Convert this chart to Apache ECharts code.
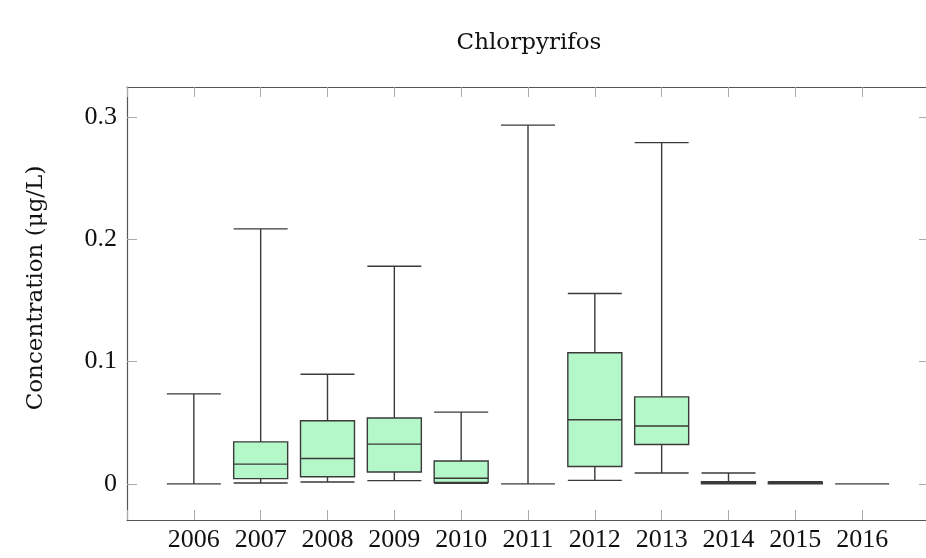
<!DOCTYPE html>
<html>
<head>
<meta charset="utf-8">
<script src="https://cdn.jsdelivr.net/npm/echarts@6/dist/echarts.min.js"></script>
<style>
  html, body { margin: 0; padding: 0; background: #fff; }
  #chart { width: 926px; height: 558px; }
</style>
</head>
<body>
<div id="chart"></div>
<script>
// Years (categories)
const years = ['2006','2007','2008','2009','2010','2011','2012','2013','2014','2015','2016'];
// Box statistics per year (µg/L)
const minVals    = [0.0,    0.0008, 0.0016, 0.0027, 0.0005, 0.0,    0.0029, 0.0089, 0.0,    0.0,    0.0];
const q1Vals     = [0.0,    0.0043, 0.0059, 0.0097, 0.0013, 0.0,    0.0143, 0.0322, 0.0,    0.0,    0.0];
const medianVals = [0.0,    0.0162, 0.0208, 0.0325, 0.0046, 0.0,    0.0525, 0.0474, 0.0009, 0.0008, 0.0];
const q3Vals     = [0.0,    0.0344, 0.0517, 0.0539, 0.0187, 0.0,    0.1072, 0.0712, 0.0019, 0.0015, 0.0];
const maxVals    = [0.0736, 0.2085, 0.0896, 0.178,  0.0587, 0.2933, 0.1557, 0.279,  0.0089, 0.0018, 0.0];
// Y tick labels
const yTicks = [0, 0.1, 0.2, 0.3];

const axisData = [' '].concat(years, ['  ']);
const boxData = years.map((y, i) => [minVals[i], q1Vals[i], medianVals[i], q3Vals[i], maxVals[i]]);
// pad first/last category (axis limits enlarged like pgfplots)
const seriesData = [[null, null, null, null, null]].concat(boxData);

const serif = 'Liberation Serif';
const titleFont = 'DejaVu Serif';
const frameColor = '#555';
const tickColor = '#aaa';

const chart = echarts.init(document.getElementById('chart'), null, { renderer: 'canvas' });
chart.setOption({
  animation: false,
  backgroundColor: '#fff',
  title: {
    text: 'Chlorpyrifos',
    left: 524,
    top: 27,
    textAlign: 'center',
    textStyle: { fontFamily: titleFont, fontSize: 23, fontWeight: 'normal', color: '#111' }
  },
  grid: { left: 127, top: 87, right: -3, bottom: 38, outerBoundsMode: 'none', containLabel: false },
  xAxis: [
    {
      type: 'category', data: axisData, boundaryGap: false, position: 'bottom',
      axisLine: { show: true, onZero: false, lineStyle: { color: frameColor, width: 1.2 } },
      axisTick: { show: true, inside: true, length: 10, interval: 0, lineStyle: { color: tickColor } },
      axisLabel: { interval: 0, margin: 7, fontFamily: serif, fontSize: 26, color: '#111' },
      splitLine: { show: false }
    },
    {
      type: 'category', data: axisData, boundaryGap: false, position: 'top',
      axisLine: { show: true, onZero: false, lineStyle: { color: frameColor, width: 1.2 } },
      axisTick: { show: true, inside: true, length: 10, interval: 0, lineStyle: { color: tickColor } },
      axisLabel: { show: false },
      splitLine: { show: false }
    }
  ],
  yAxis: [
    {
      type: 'value', min: -0.0295, max: 0.3245, position: 'left',
      axisLine: { show: true, onZero: false, lineStyle: { color: frameColor, width: 1.2 } },
      axisTick: { show: true, inside: true, length: 10, customValues: yTicks, lineStyle: { color: tickColor } },
      axisLabel: { margin: 10, customValues: yTicks, fontFamily: serif, fontSize: 26, color: '#111' },
      splitLine: { show: false }
    },
    {
      type: 'value', min: -0.0295, max: 0.3245, position: 'right',
      axisLine: { show: true, onZero: false, lineStyle: { color: frameColor, width: 1.2 } },
      axisTick: { show: true, inside: true, length: 10, customValues: yTicks, lineStyle: { color: tickColor } },
      axisLabel: { show: false },
      splitLine: { show: false }
    }
  ],
  graphic: [
    {
      type: 'text',
      x: 36, y: 288,
      rotation: Math.PI / 2,
      style: {
        text: 'Concentration (μg/L)',
        fontFamily: titleFont, fontSize: 23, fill: '#111',
        align: 'center', verticalAlign: 'middle'
      }
    }
  ],
  series: [
    {
      type: 'boxplot',
      xAxisIndex: 0, yAxisIndex: 0,
      data: seriesData,
      boxWidth: [54, 54],
      itemStyle: { color: '#b4f7c9', borderColor: '#3a3a3a', borderWidth: 1.4 },
      emphasis: { disabled: true }
    }
  ]
});
</script>
</body>
</html>
